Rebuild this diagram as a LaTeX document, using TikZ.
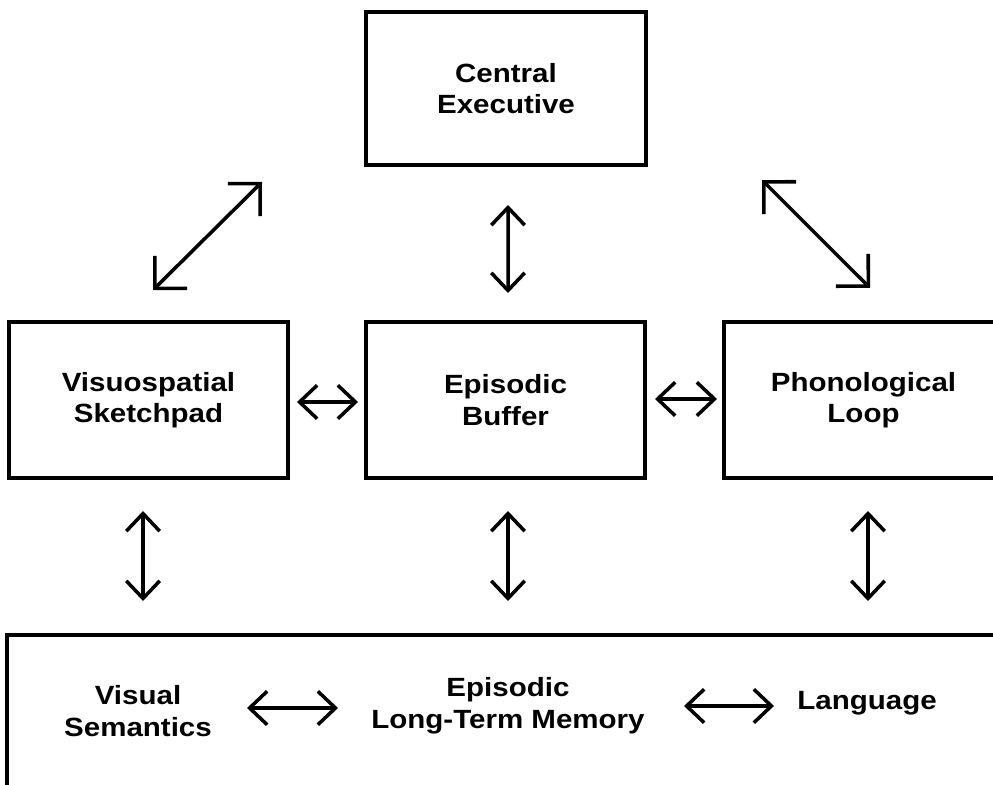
\documentclass[tikz,border=0pt]{standalone}
\usepackage{fontspec}
\setmainfont{Liberation Sans}[FakeStretch=1.12]
\usetikzlibrary{positioning,calc,arrows.meta}
\tikzstyle{module}=[draw, line width=2.3pt, minimum width=5.58cm, minimum height=3.12cm, align=center, font=\fontsize{15}{18}\selectfont\bfseries]
\tikzstyle{memtext}=[align=center, font=\fontsize{15}{18}\selectfont\bfseries]
\tikzstyle{link}=[{Straight Barb[length=10pt,width=19pt]}-{Straight Barb[length=10pt,width=19pt]}, line width=2pt]
\tikzstyle{widelink}=[{Straight Barb[length=13pt,width=26pt]}-{Straight Barb[length=13pt,width=26pt]}, line width=2pt]
\begin{document}
\begin{tikzpicture}[x=0.02cm, y=-0.02cm]
    \path[use as bounding box, clip] (0,0) rectangle (993,784);
    \node[module, minimum width=5.6cm, minimum height=3.06cm] (ce) at (506,88.5) {Central\\Executive};
    \node[module] (vs) at (148.5,400) {Visuospatial\\Sketchpad};
    \node[module] (eb) at (505.5,400) {Episodic\\Buffer};
    \node[module] (pl) at (863.5,400) {Phonological\\Loop};
    \node[module, minimum width=20.2cm, minimum height=3.4cm, anchor=north west] (ltm) at (5,633) {};
    \node[memtext] (vis) at (138,711) {Visual\\Semantics};
    \node[memtext] (epi) at (508,706) {Episodic\\Long-Term Memory};
    \node[memtext] (lang) at (867,703) {Language};
    % executive links
    \draw[widelink] ($(vs.north)+(4.5,-30)$) -- ($(ce.west)+(-102,93.5)$);
    \draw[link] ($(ce.south)+(2,38)$) -- ($(eb.north)+(2.5,-27)$);
    \draw[widelink] ($(ce.east)+(114,91.5)$) -- ($(pl.north)+(6.5,-32)$);
    % buffer links
    \draw[link] ($(vs.east)+(7,2)$) -- ($(eb.west)+(-6,2)$);
    \draw[link] ($(eb.east)+(8,-1)$) -- ($(pl.west)+(-5,-1)$);
    % long-term memory links
    \draw[link] ($(vs.south)+(-5.5,31)$) -- ($(vs.south |- ltm.north)+(-5.5,-32)$);
    \draw[link] ($(eb.south)+(2.5,31)$) -- ($(eb.south |- ltm.north)+(2.5,-32)$);
    \draw[link] ($(pl.south)+(4.5,31)$) -- ($(pl.south |- ltm.north)+(4.5,-32)$);
    \draw[link] ($(vis)+(109,-3)$) -- ($(epi)+(-170,2)$);
    \draw[link] ($(epi)+(176,0)$) -- ($(lang)+(-93,3)$);
\end{tikzpicture}
\end{document}
